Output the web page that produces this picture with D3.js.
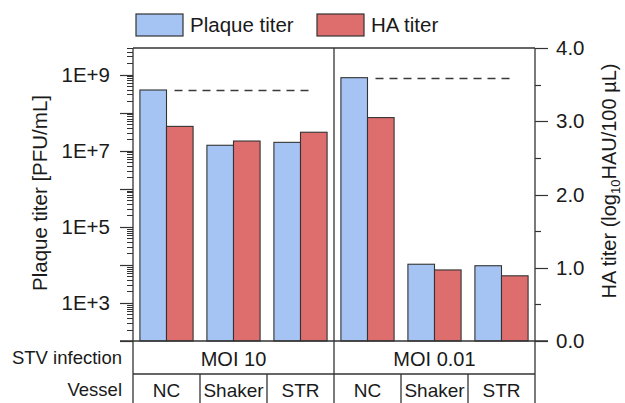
<!DOCTYPE html>
<html>
<head>
<meta charset="utf-8">
<script src="https://cdn.jsdelivr.net/npm/d3@7"></script>
<style>
  html, body { margin: 0; padding: 0; background: #fff; }
  svg { display: block; font-family: "Liberation Sans", Arial, sans-serif; }
</style>
</head>
<body>
<svg id="chart" width="625" height="403"></svg>
<script>
// Infection conditions and culture vessels
const groups = ["MOI 10", "MOI 0.01"];
const vessels = ["NC", "Shaker", "STR"];
// Plaque titer [PFU/mL], order: MOI 10 (NC, Shaker, STR), MOI 0.01 (NC, Shaker, STR)
const plaqueTiter = [3.94e8, 1.39e7, 1.66e7, 8.3e8, 1.04e4, 9.5e3];
// HA titer [log10 HAU/100 µL], same order
const haTiter = [2.93, 2.73, 2.85, 3.05, 0.97, 0.89];
// Axis tick labels
const leftTickValues = [1e3, 1e5, 1e7, 1e9];
const leftTickLabels = ["1E+3", "1E+5", "1E+7", "1E+9"];
const rightTickValues = [0, 1, 2, 3, 4];
const seriesNames = ["Plaque titer", "HA titer"];
const seriesColors = ["#a6c4f3", "#de6e6e"];

const svg = d3.select("#chart");
const ink = "#1a1a1a";
const lineCol = "#333";
const L = 133, R = 535, T = 48, B = 341, H = 403;
const row1 = 374;

const cells = [];
groups.forEach((g, gi) => vessels.forEach((v, vi) => cells.push({
  key: g + "|" + v, group: g, vessel: v, i: gi * vessels.length + vi
})));

const x = d3.scaleBand().domain(cells.map(c => c.key)).range([L, R]).padding(0);
const xs = d3.scaleBand().domain(seriesNames).range([0, x.bandwidth()]).paddingInner(0).paddingOuter(0.26);
const yL = d3.scaleLog().domain([1e2, 5e9]).range([B, T]);
const yR = d3.scaleLinear().domain([0, 4]).range([B, T]);

// Bars
const bars = svg.append("g");
cells.forEach(c => {
  bars.append("rect")
    .attr("x", x(c.key) + xs(seriesNames[0]))
    .attr("y", yL(plaqueTiter[c.i]))
    .attr("width", xs.bandwidth())
    .attr("height", B - yL(plaqueTiter[c.i]))
    .attr("fill", seriesColors[0]).attr("stroke", lineCol).attr("stroke-width", 1.1);
  bars.append("rect")
    .attr("x", x(c.key) + xs(seriesNames[1]))
    .attr("y", yR(haTiter[c.i]))
    .attr("width", xs.bandwidth())
    .attr("height", B - yR(haTiter[c.i]))
    .attr("fill", seriesColors[1]).attr("stroke", lineCol).attr("stroke-width", 1.1);
});

// Dashed reference at the NC plaque titer of each infection group
groups.forEach(g => {
  const nc = cells.find(c => c.group === g && c.vessel === "NC");
  const last = cells.filter(c => c.group === g).slice(-1)[0];
  const yy = Math.round(yL(plaqueTiter[nc.i])) + 0.5;
  svg.append("line")
    .attr("x1", x(nc.key) + xs(seriesNames[1]) + 8)
    .attr("x2", x(last.key) + x.bandwidth() - 20)
    .attr("y1", yy).attr("y2", yy)
    .attr("stroke", "#3a3a3a").attr("stroke-width", 1.4)
    .attr("stroke-dasharray", "8,6");
});

// Left log axis: decade ticks long, in-decade ticks short
const leftAxis = svg.append("g");
const decadeTicks = d3.range(2, 10).map(e => Math.pow(10, e));
const minorTicks = [];
for (let e = 2; e <= 9; e++) for (let m = 2; m <= 9; m++) {
  const v = m * Math.pow(10, e);
  if (v <= 5e9) minorTicks.push(v);
}
minorTicks.forEach(v => {
  const yy = Math.round(yL(v)) + 0.5;
  leftAxis.append("line").attr("x1", L - 6).attr("x2", L).attr("y1", yy).attr("y2", yy)
    .attr("stroke", lineCol).attr("stroke-width", 1);
});
decadeTicks.forEach(v => {
  const yy = Math.round(yL(v)) + 0.5;
  leftAxis.append("line").attr("x1", L - 13).attr("x2", L).attr("y1", yy).attr("y2", yy)
    .attr("stroke", lineCol).attr("stroke-width", 1.2);
});
leftTickValues.forEach((v, i) => {
  leftAxis.append("text").attr("x", L - 23).attr("y", yL(v))
    .attr("dy", "0.35em").attr("text-anchor", "end")
    .attr("font-size", 20.5).attr("fill", ink).text(leftTickLabels[i]);
});

// Right linear axis
const rightAxis = svg.append("g");
d3.range(0, 4.01, 0.5).forEach(v => {
  const major = Math.abs(v - Math.round(v)) < 1e-9;
  const yy = Math.round(yR(v)) + 0.5;
  rightAxis.append("line").attr("x1", R).attr("x2", R + (major ? 13 : 6))
    .attr("y1", yy).attr("y2", yy).attr("stroke", lineCol).attr("stroke-width", 1.2);
});
rightTickValues.forEach(v => {
  rightAxis.append("text").attr("x", R + 21).attr("y", yR(v))
    .attr("dy", "0.35em").attr("font-size", 20.5).attr("fill", ink).text(d3.format(".1f")(v));
});

// Frame and table grid
const grid = svg.append("g").attr("stroke", lineCol).attr("stroke-width", 1.3);
const divX = x(cells[vessels.length].key);
grid.append("line").attr("x1", L).attr("x2", R).attr("y1", T).attr("y2", T);
grid.append("line").attr("x1", L - 13).attr("x2", R + 13).attr("y1", B).attr("y2", B);
grid.append("line").attr("x1", L).attr("x2", R).attr("y1", row1).attr("y2", row1);
[L, divX, R].forEach(xx => grid.append("line").attr("x1", xx).attr("x2", xx).attr("y1", T).attr("y2", H));
cells.forEach(c => {
  if (c.i % vessels.length !== 0) {
    const xx = x(c.key);
    grid.append("line").attr("x1", xx).attr("x2", xx).attr("y1", row1).attr("y2", H);
  }
});

// Table text
const tbl = svg.append("g").attr("fill", ink);
tbl.append("text").attr("x", 122).attr("y", (B + row1) / 2).attr("dy", "0.35em")
  .attr("text-anchor", "end").attr("font-size", 18.5).text("STV infection");
tbl.append("text").attr("x", 122).attr("y", 390).attr("dy", "0.35em")
  .attr("text-anchor", "end").attr("font-size", 18.5).text("Vessel");
groups.forEach(g => {
  const gc = cells.filter(c => c.group === g);
  const cx = (x(gc[0].key) + x(gc[gc.length - 1].key) + x.bandwidth()) / 2;
  tbl.append("text").attr("x", cx).attr("y", (B + row1) / 2 + 1).attr("dy", "0.35em")
    .attr("text-anchor", "middle").attr("font-size", 20).text(g);
});
cells.forEach(c => {
  tbl.append("text").attr("x", x(c.key) + x.bandwidth() / 2).attr("y", 390).attr("dy", "0.35em")
    .attr("text-anchor", "middle").attr("font-size", 19).text(c.vessel);
});

// Axis titles
svg.append("text").attr("transform", `translate(47,193) rotate(-90)`)
  .attr("text-anchor", "middle").attr("font-size", 20.5).attr("fill", ink)
  .text("Plaque titer [PFU/mL]");
const rt = svg.append("text").attr("transform", `translate(616,181) rotate(-90)`)
  .attr("text-anchor", "middle").attr("font-size", 20).attr("fill", ink);
rt.append("tspan").text("HA titer (log");
rt.append("tspan").attr("font-size", 13).attr("dy", 4).text("10");
rt.append("tspan").attr("dy", -4).text("HAU/100 µL)");

// Legend
const legendX = [136, 317];
seriesNames.forEach((s, i) => {
  svg.append("rect").attr("x", legendX[i]).attr("y", 14).attr("width", 47).attr("height", 22)
    .attr("fill", seriesColors[i]).attr("stroke", lineCol).attr("stroke-width", 1.2);
  svg.append("text").attr("x", legendX[i] + 54).attr("y", 25).attr("dy", "0.35em")
    .attr("font-size", 20.5).attr("fill", ink).text(s);
});
</script>
</body>
</html>
